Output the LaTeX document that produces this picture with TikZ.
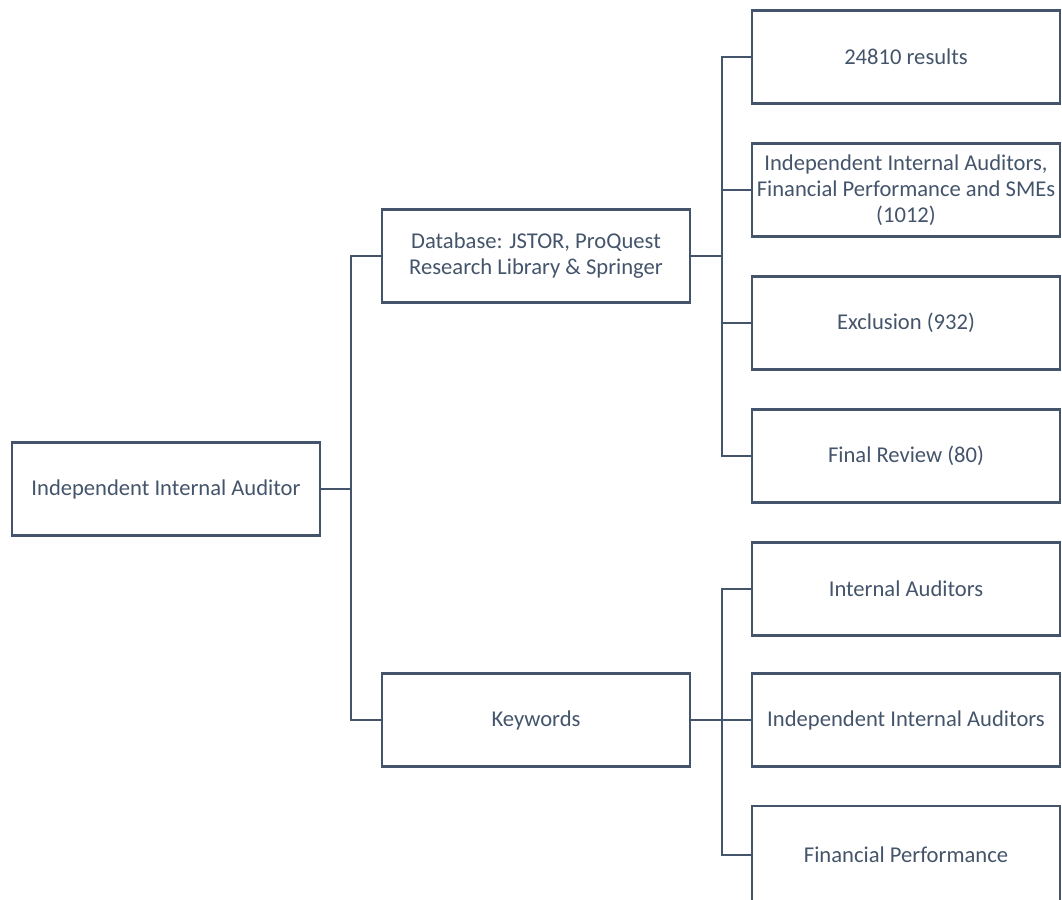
\documentclass[tikz,border=0pt]{standalone}
\usepackage{fontspec}
\setmainfont{Carlito}
\definecolor{slate}{HTML}{44546A}
\begin{document}
\begin{tikzpicture}[x=1pt,y=-1pt,
  box/.style={draw=slate,line width=2.2pt,text=slate,minimum width=308pt,minimum height=93pt,align=center,inner sep=0pt,font=\fontsize{22.6}{26}\selectfont},
  conn/.style={draw=slate,line width=2.2pt}]
\useasboundingbox (0,0) rectangle (1062,899);
\clip (0,0) rectangle (1062,899);
\node[box] (root) at (166,489) {Independent Internal Auditor};
\node[box] (db) at (536,256) {Database: JSTOR, ProQuest\\Research Library \& Springer};
\node[box] (kw) at (536,720) {Keywords};
\node[box] (r1) at (906,57) {24810 results};
\node[box] (r2) at (906,190) {Independent Internal Auditors,\\Financial Performance and SMEs\\(1012)};
\node[box] (r3) at (906,323) {Exclusion (932)};
\node[box] (r4) at (906,456) {Final Review (80)};
\node[box] (k1) at (906,589) {Internal Auditors};
\node[box] (k2) at (906,720) {Independent Internal Auditors};
\node[box,minimum height=98pt] (k3) at (906,855) {Financial Performance};
\coordinate (t1) at (351,489);
\coordinate (t2) at (722,256);
\coordinate (t3) at (722,720);
\draw[conn] (root.east) -- (t1);
\draw[conn] (db.west) -| (t1);
\draw[conn] (kw.west) -| (t1);
\draw[conn] (db.east) -- (t2);
\draw[conn] (r1.west) -| (t2);
\draw[conn] (r2.west) -| (t2);
\draw[conn] (r3.west) -| (t2);
\draw[conn] (r4.west) -| (t2);
\draw[conn] (kw.east) -- (t3);
\draw[conn] (k1.west) -| (t3);
\draw[conn] (k2.west) -| (t3);
\draw[conn] (k3.west) -| (t3);
\end{tikzpicture}
\end{document}
